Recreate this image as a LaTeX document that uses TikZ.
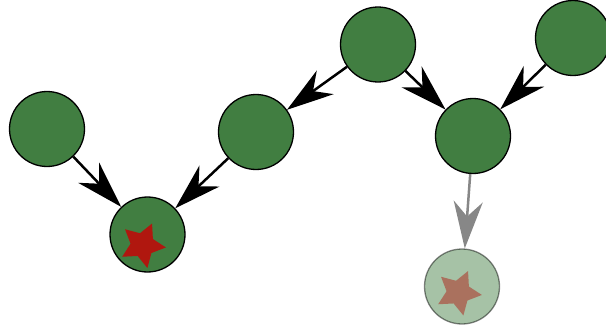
\documentclass[tikz,border=0pt]{standalone}
\usetikzlibrary{arrows.meta}
\definecolor{nodegreen}{RGB}{65,126,65}
\definecolor{starred}{RGB}{176,23,15}
\definecolor{fadedgray}{RGB}{135,135,135}
\tikzset{
  vnode/.style={circle,draw=black,line width=1.3pt,fill=nodegreen,minimum size=75pt,inner sep=0pt},
  faded/.style={opacity=0.47},
  pics/redstar/.style={code={
    \fill[pic actions] (90:23.5pt)--(126:12pt)--(162:23.5pt)--(198:12pt)--(234:23.5pt)--(270:12pt)--(306:23.5pt)--(342:12pt)--(18:23.5pt)--(54:12pt)--cycle;
  }},
  edge/.style={line width=2.5pt,-{Stealth[length=47pt,width=29pt,inset=15pt]}},
}
\begin{document}
\begin{tikzpicture}[x=1pt,y=-1pt]
\useasboundingbox (0,0) rectangle (606,332);
\begin{scope}
\clip (0,0) rectangle (606,332);
\node[vnode] (A) at (47,129) {};
\node[vnode] (B) at (147.5,234.5) {};
\node[vnode] (C) at (256,132) {};
\node[vnode] (D) at (378,44.5) {};
\node[vnode] (E) at (473,136) {};
\node[vnode] (F) at (573,38) {};
\node[vnode,faded] (G) at (462,286.5) {};
\pic[fill=starred,rotate=-24] at (142.5,245) {redstar};
\pic[fill=starred,rotate=-24,opacity=0.47] at (458.5,292.5) {redstar};
\draw[edge] (A) -- (B);
\draw[edge] (C) -- (B);
\draw[edge] (D) -- (C);
\draw[edge] (D) -- (E);
\draw[edge] (F) -- (E);
\draw[edge,fadedgray] (E) -- (G);
\end{scope}
\end{tikzpicture}
\end{document}
